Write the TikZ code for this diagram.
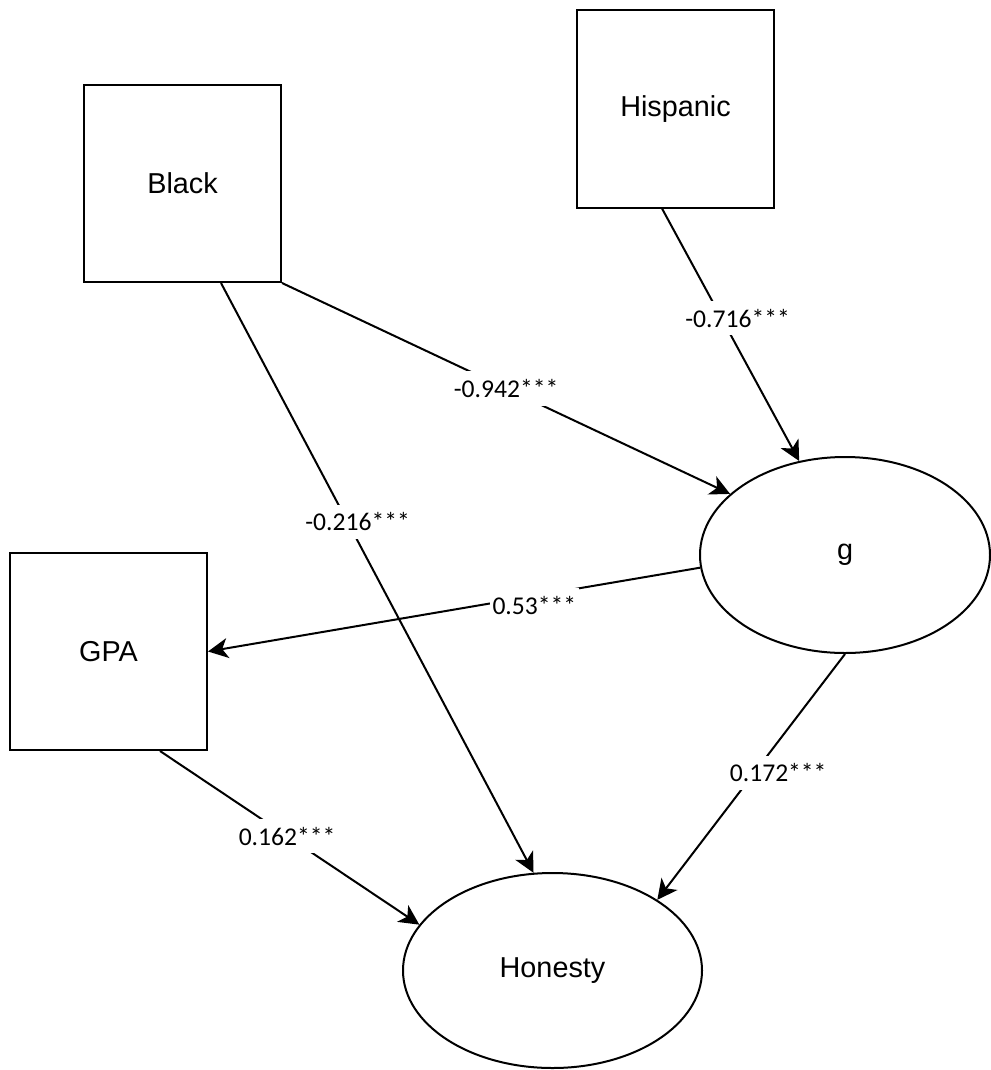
\documentclass[tikz,border=0pt]{standalone}
\usepackage{fontspec}
\setmainfont{Liberation Sans}
\newfontfamily\coeffont{Carlito}
\usetikzlibrary{shapes.geometric, arrows.meta}
\tikzset{
    observed/.style={
        rectangle,
        draw=black,
        line width=1pt,
        minimum width=98.5pt,
        minimum height=98.5pt,
        inner sep=0pt,
        fill=white,
        font=\fontsize{14.4}{17}\selectfont
    },
    latent/.style={
        ellipse,
        draw=black,
        line width=1pt,
        minimum width=145pt,
        minimum height=98pt,
        inner sep=0pt,
        fill=white,
        font=\fontsize{14.4}{17}\selectfont
    },
    effect/.style={
        draw=black,
        line width=1pt,
        -{Stealth[length=10pt, width=10pt, inset=2.8pt]}
    },
    coef/.style={
        font=\coeffont\fontsize{12.8}{15}\selectfont,
        fill=white,
        inner xsep=1.5pt,
        inner ysep=4pt
    }
}

\begin{document}
\begin{tikzpicture}[x=0.5pt, y=-0.5pt]
\useasboundingbox (0,0) rectangle (990,1070);

% Observed predictors
\node[observed] (black) at (182.5,183.5) {Black};
\node[observed] (hisp) at (675.5,109) {Hispanic};
\node[observed] (gpa) at (108.5,651.5) {GPA};

% Latent factors
\node[latent] (g) at (845,555) {g};
\node[latent, minimum width=149.5pt, minimum height=97.5pt] (hon) at (552.5,970.5) {Honesty};

% Paths to g
\draw[effect] (black.south east) -- node[coef, pos=0.5] {-0.942***} (g.152);
\draw[effect] ([xshift=-6.75pt]hisp.south) -- node[coef, pos=0.434, xshift=8pt] {-0.716***} (g.116.8);

% Paths from g
\draw[effect] (g.185.9) -- node[coef, pos=0.337, yshift=-4.75pt] {0.53***} (gpa.east);
\draw[effect] (g.south) -- node[coef, pos=0.484, xshift=12pt] {0.172***} (hon.34.4);

% Paths to Honesty
\draw[effect] ([xshift=19.25pt]black.south) -- node[coef, pos=0.405, xshift=5pt] {-0.216***} (hon.101.8);
\draw[effect] ([xshift=25.75pt]gpa.south) -- node[coef, pos=0.49] {0.162***} (hon.161.9);

\end{tikzpicture}
\end{document}
